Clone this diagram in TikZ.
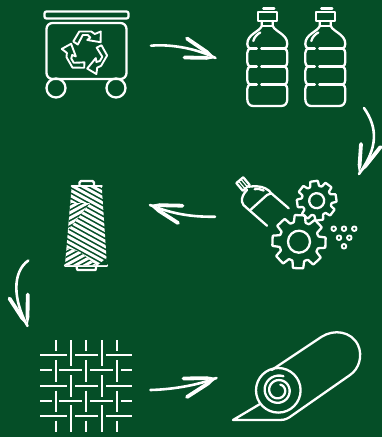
\documentclass[tikz,border=0pt]{standalone}
\usetikzlibrary{calc}

\definecolor{bggreen}{HTML}{054E27}

\tikzset{
    icon/.style={draw=white, line width=2.3pt, line join=round, line cap=round},
    thread/.style={draw=white, line width=2.9pt},
    shaft/.style={draw=white, line width=2.6pt, line cap=round},
    pics/bottle/.style={code={
        \draw[icon] (-4,-2.5) -- (7,-2.5);
        \draw[icon] (-9,1) rectangle (9.5,10);
        \draw[icon] (-5.5,10) -- (-5.5,15) .. controls (-8,21) and (-20,23) .. (-20,33)
            .. controls (-20,35) and (-19,37) .. (-17.5,37.5)
            .. controls (-19,38.5) and (-20,40) .. (-20,42) -- (-20,51)
            .. controls (-20,53) and (-19,55) .. (-17.5,55.5)
            .. controls (-19,56.5) and (-20,58) .. (-20,60) -- (-20,69)
            .. controls (-20,71) and (-19,73) .. (-17.5,73.5)
            .. controls (-19,74.5) and (-20,76) .. (-20,78) -- (-20,88)
            .. controls (-20,92) and (-18,95) .. (-14,95) -- (14,95)
            .. controls (18,95) and (20,92) .. (20,88) -- (20,78)
            .. controls (20,76) and (19,74.5) .. (17.5,73.5)
            .. controls (19,73) and (20,71) .. (20,69) -- (20,60)
            .. controls (20,58) and (19,56.5) .. (17.5,55.5)
            .. controls (19,55) and (20,53) .. (20,51) -- (20,42)
            .. controls (20,40) and (19,38.5) .. (17.5,37.5)
            .. controls (19,37) and (20,35) .. (20,33)
            .. controls (20,23) and (8,21) .. (5.5,15) -- (5.5,10);
        \draw[icon] (-5.5,15) -- (5.5,15);
        \foreach \ribY in {37.5,55.5,73.5} {
            \draw[icon] (-17.5,\ribY) -- (-10.5,\ribY);
            \draw[icon] (-6,\ribY) -- (17.5,\ribY);
        }
        \draw[icon] (-7,21.5) .. controls (-10,23) and (-13,26) .. (-14,30);
    }},
    pics/recycle/.style={code={
        \foreach \turn in {0,120,240} {
            \draw[icon, line width=1.9pt, rotate=\turn] (-13,-10) -- (-7,-20) -- (5,-20) -- (8.5,-17.5)
                -- (14.5,-20) -- (14.3,-9.3) -- (1,-11.5) -- (4,-14) -- (1.5,-16.5)
                -- (-3.5,-16.5) -- (-8.5,-7) -- cycle;
        }
    }}
}

% gear: centre x, centre y, outer radius, root radius, hole radius, rotation
\newcommand{\gearwheel}[6]{
    \begin{scope}[shift={(#1,#2)}, rotate=#6]
        \draw[icon, rounded corners=0.6pt] (-17:#4)
            \foreach \k in {0,45,...,315} {
                -- ({\k-17}:#4) -- ({\k-11}:#3) -- ({\k+11}:#3) -- ({\k+17}:#4)
            } -- cycle;
        \draw[icon] (0,0) circle (#5);
    \end{scope}
}

% one stroke of an arrow head, thick at the free end
\newcommand{\barb}[2]{
    \draw[white, line width=3.8pt, line cap=round] (#1) -- ($(#1)!.7!(#2)$);
    \fill[white] ($(#1)!.7!(#2)!1.9pt!90:(#2)$) -- (#2) -- ($(#1)!.7!(#2)!1.9pt!-90:(#2)$) -- cycle;
}

\begin{document}
\begin{tikzpicture}[x=1pt, y=-1pt]
\fill[bggreen] (0,0) rectangle (382,437);
\useasboundingbox (0,0) rectangle (382,437);

% bin
\draw[icon, rounded corners=2pt] (44.5,11.5) rectangle (128.5,18.5);
\draw[icon, rounded corners=6pt] (46.5,23) rectangle (126.5,79);
\draw[icon] (56,88) circle (9.5);
\draw[icon] (116,88) circle (9.5);
\pic at (86.3,51.5) {recycle};

% bottles
\pic at (267.3,11) {bottle};
\pic at (325.3,11) {bottle};

% crushed bottle
\begin{scope}[shift={(243,184)}, rotate=40]
    \draw[icon] (-4.5,-5) rectangle (4.5,5);
    \draw[icon, line width=1.2pt] (-1.5,-5) -- (-1.5,5) (1.5,-5) -- (1.5,5);
\end{scope}
\draw[icon] (248.7,186.7) .. controls (254,186) and (261,186) .. (265.3,188.3)
    .. controls (268,189.5) and (270,191.5) .. (271.3,193.3) -- (288.7,208.3);
\draw[icon] (247,190) .. controls (243,194) and (241.5,198) .. (242,201.7)
    .. controls (242.5,204) and (244,206) .. (246,207.3) -- (267,225.7);
\draw[icon] (250.3,210) -- (267,195) -- (271.3,193.3);
\draw[icon] (254.7,189.3) .. controls (257,188.5) and (261,189) .. (263.7,190.5);

% gears and pellets
\gearwheel{316.7}{200.7}{20}{15}{7.5}{8}
\gearwheel{299}{241.7}{27}{20}{11}{-2}
\foreach \pelX/\pelY in {333.7/228.7,344/228.7,354.3/228.7,339/237.7,349.3/237.7,344/246.3} {
    \draw[icon, line width=1.9pt] (\pelX,\pelY) circle (2.3);
}

% spool
\draw[icon] (79.5,185.5) -- (79.5,182.5) .. controls (79.5,181.5) and (80,181) .. (81,181)
    -- (92.5,181) .. controls (93.5,181) and (94,181.5) .. (94,182.5) -- (94,185.5);
\draw[icon] (71.7,186) -- (101.7,186);
\draw[icon] (65,265.5) -- (107,265.5);
\draw[icon] (76.7,265.5) -- (76.7,268) -- (77.5,270) -- (95.5,270) -- (96,268) -- (96,265.5);
\begin{scope}
    \clip (71.7,186) -- (101.7,186) -- (107,265) -- (65,265) -- cycle;
    \foreach \offY in {150,155.3,...,270} {
        \draw[thread] (55,\offY) -- (115,\offY+33);
    }
    % crossing parts
    \fill[bggreen] (60,203) -- (90,203) -- (60,240) -- cycle;
    \fill[bggreen] (60,266) -- (97,266) -- (80,252) -- (60,246) -- cycle;
    \fill[bggreen] (97,266) -- (110,266) -- (110,255) -- cycle;
    \begin{scope}
        \clip (60,203) -- (90,203) -- (60,240) -- cycle;
        \foreach \offY in {205,210.3,...,260} {
            \draw[thread] (55,\offY) -- (115,\offY-33);
        }
    \end{scope}
    \begin{scope}
        \clip (60,266) -- (97,266) -- (80,252) -- (60,246) -- cycle;
        \foreach \offY in {250,255.3,...,300} {
            \draw[thread] (55,\offY) -- (115,\offY-33);
        }
    \end{scope}
    \begin{scope}
        \clip (97,266) -- (110,266) -- (110,255) -- cycle;
        \foreach \offY in {300,305.3,...,325} {
            \draw[thread] (55,\offY) -- (115,\offY-33);
        }
    \end{scope}
\end{scope}

% fabric
\foreach \rowY in {355,385.7,416.3} {
    \foreach \segA/\segB in {40/66.7,75.3/97.7,106/132} {
        \draw[icon, line cap=butt] (\segA,\rowY) -- (\segB,\rowY);
    }
}
\foreach \rowY in {370.3,401} {
    \foreach \segA/\segB in {40/51.7,59.3/82.3,90/113,121/132} {
        \draw[icon, line cap=butt] (\segA,\rowY) -- (\segB,\rowY);
    }
}
\foreach \colX in {55.7,86.3,117} {
    \foreach \segA/\segB in {340/351,360/381.7,390.7/412.3,420.7/431.7} {
        \draw[icon, line cap=butt] (\colX,\segA) -- (\colX,\segB);
    }
}
\foreach \colX in {71,101.7} {
    \foreach \segA/\segB in {340/366.3,375/397,405/431.7} {
        \draw[icon, line cap=butt] (\colX,\segA) -- (\colX,\segB);
    }
}

% roll
\draw[icon] (278.3,390.3) circle (22.3);
\draw[icon] plot[smooth, domain=-70:650, samples=60] ({278.3+(6+(\x+70)/720*9)*cos(\x)}, {390.3+(6+(\x+70)/720*9)*sin(\x)});
\draw[icon] (271.7,370) -- (321.7,336.7) .. controls (334,329) and (351,331) .. (358,345)
    .. controls (363,356) and (359,369) .. (350,375) -- (292,415.5)
    .. controls (288,418.5) and (285,420) .. (280,420) -- (233,420) -- (260,404);

% arrows
\coordinate (bintail) at (151,45.7);
\coordinate (bintip) at (215.5,58);
\coordinate (bottletail) at (364,108);
\coordinate (bottletip) at (359,174);
\coordinate (geartail) at (215,216.7);
\coordinate (geartip) at (150,205);
\coordinate (spooltail) at (28.3,260.5);
\coordinate (spooltip) at (27.5,326);
\coordinate (fabrictail) at (150.5,390);
\coordinate (fabrictip) at (216.5,378);

\draw[shaft] (bintail) .. controls (170,44) and (195,48) .. (bintip);
\barb{187,38.5}{bintip}
\barb{184.5,57.5}{bintip}

\draw[shaft] (bottletail) .. controls (378,128) and (378,148) .. (bottletip);
\barb{361,144}{bottletip}
\barb{380.5,147}{bottletip}

\draw[shaft] (geartail) .. controls (195,217) and (175,215) .. (geartip);
\barb{182.5,205.7}{geartip}
\barb{178,223}{geartip}

\draw[shaft] (spooltail) .. controls (12,272) and (13,300) .. (spooltip);
\barb{9.5,298.5}{spooltip}
\barb{27.7,294.5}{spooltip}

\draw[shaft] (fabrictail) .. controls (170,389.5) and (195,386) .. (fabrictip);
\barb{183.5,378.5}{fabrictip}
\barb{187,397}{fabrictip}
\end{tikzpicture}
\end{document}
